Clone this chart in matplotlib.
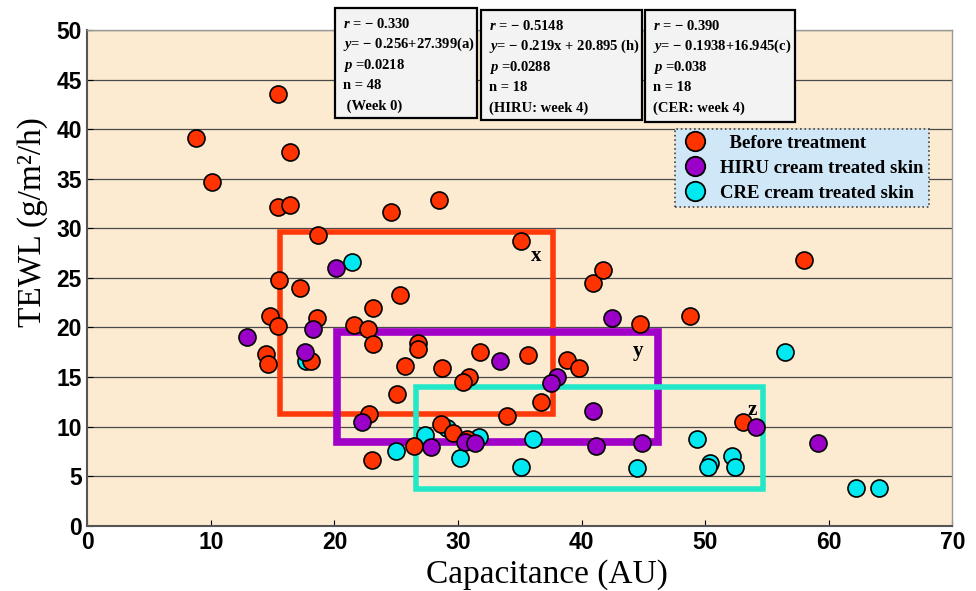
import matplotlib
matplotlib.use('Agg')
import matplotlib.pyplot as plt
from matplotlib.patches import Rectangle
from matplotlib.lines import Line2D

plt.rcParams['mathtext.fontset'] = 'custom'
plt.rcParams['mathtext.rm'] = 'Liberation Serif:bold'
plt.rcParams['mathtext.it'] = 'Liberation Serif:italic:bold'
plt.rcParams['mathtext.bf'] = 'Liberation Serif:bold'

# before treatment (week 0)
before_x = [8.76, 10.1, 15.4, 16.4, 15.4, 16.4, 18.7, 24.6, 28.5, 35.07,
            15.5, 17.2, 25.3, 23.1, 40.9, 41.7, 58.0, 14.77, 18.6, 15.4,
            21.6, 22.7, 23.1, 26.8, 26.8, 14.45, 14.6, 18.1, 25.7, 28.7,
            31.8, 35.7, 38.8, 39.8, 30.9, 30.4, 25.1, 36.7, 22.8, 34.0,
            28.6, 29.6, 30.7, 26.4, 23.0, 44.7, 48.8, 53.1]
before_y = [39.1, 34.7, 43.5, 37.7, 32.15, 32.3, 29.3, 31.6, 32.9, 28.7,
            24.8, 24.0, 23.3, 22.0, 24.5, 25.8, 26.8, 21.2, 20.9, 20.1,
            20.2, 19.8, 18.3, 18.4, 17.8, 17.3, 16.3, 16.65, 16.1, 15.9,
            17.5, 17.2, 16.7, 15.9, 15.0, 14.5, 13.3, 12.5, 11.3, 11.1,
            10.3, 9.4, 8.7, 8.0, 6.6, 20.3, 21.2, 10.5]

# HIRU cream, week 4
hiru_x = [20.1, 12.9, 18.3, 17.6, 33.4, 38.0, 37.5, 40.9, 22.2, 27.8,
          30.6, 31.4, 41.2, 42.5, 44.9, 54.1, 59.1]
hiru_y = [26.0, 19.0, 19.8, 17.5, 16.65, 15.0, 14.4, 11.6, 10.5, 7.9,
          8.4, 8.3, 8.0, 21.0, 8.3, 9.95, 8.3]

# CRE cream, week 4
cre_x = [21.4, 17.7, 29.1, 27.3, 31.7, 25.0, 30.2, 35.06, 36.1, 56.5,
         49.3, 44.5, 50.4, 50.2, 52.2, 52.4, 62.2, 64.1]
cre_y = [26.6, 16.65, 9.9, 9.1, 8.9, 7.5, 6.8, 5.95, 8.7, 17.5,
         8.7, 5.8, 6.3, 5.9, 7.0, 5.9, 3.8, 3.8]

# highlighted regions: (x0, x1, y0, y1, label)
regions = [(15.6, 37.7, 11.3, 29.6, 'x'),
           (20.2, 46.2, 8.4, 19.5, 'y'),
           (26.6, 54.7, 3.7, 14.0, 'z')]
region_colors = ['#FF3A0A', '#A100C9', '#22E8C8']
region_lw = [4.0, 5.5, 4.0]
region_label_pos = [(36.3, 27.2), (44.6, 17.6), (53.8, 11.7)]

stats = [
    ['$r$ = − 0.330', '$y$= − 0.256+27.399(a)', '$p$ =0.0218', 'n = 48', ' (Week 0)'],
    ['$r$ = − 0.5148', '$y$= − 0.219x + 20.895 (h)', '$p$ =0.0288', 'n = 18', '(HIRU: week 4)'],
    ['$r$ = − 0.390', '$y$= − 0.1938+16.945(c)', '$p$ =0.038', 'n = 18', '(CER: week 4)'],
]
# box extents in pixels (left, top, right, bottom)
stat_boxes = [(335, 8, 477, 118), (481, 10, 642, 120), (645, 10, 795, 122)]

W, H = 976, 591


def fx(px):
    return px / W


def fy(py):
    return 1 - py / H


fig = plt.figure(figsize=(9.76, 5.91), dpi=100)
ax = fig.add_axes([fx(87.3), fy(525.7), (952.3 - 87.3) / W, (525.7 - 30) / H])
ax.set_facecolor('#FCEBD1')
ax.set_xlim(0, 70)
ax.set_ylim(0, 50)
ax.set_xticks(range(0, 71, 10))
ax.set_yticks(range(0, 51, 5))
ax.yaxis.grid(True, color='#4a4a4a', lw=0.9)
ax.set_axisbelow(True)
ax.tick_params(axis='both', direction='in', length=4, labelsize=16.5, pad=4)
for lab in ax.get_xticklabels() + ax.get_yticklabels():
    lab.set_fontfamily('Liberation Sans')
    lab.set_fontweight('bold')
for s in ['left', 'bottom']:
    ax.spines[s].set_color('#555555')
    ax.spines[s].set_linewidth(1.5)
for s in ['top', 'right']:
    ax.spines[s].set_color('#999999')
    ax.spines[s].set_linewidth(1.0)

ax.set_xlabel('Capacitance (AU)', fontfamily='Liberation Serif', fontsize=24)
ax.set_ylabel('TEWL (g/m²/h)', fontfamily='Liberation Serif', fontsize=24)
ax.xaxis.set_label_coords(0.531, -0.068)
ax.yaxis.set_label_coords(-0.045, 0.613)

for (x0, x1, y0, y1, name), col, lw, (lx, ly) in zip(regions, region_colors, region_lw, region_label_pos):
    ax.add_patch(Rectangle((x0, y0), x1 - x0, y1 - y0, fill=False,
                           edgecolor=col, lw=lw, zorder=2))
    ax.text(lx, ly, name, fontfamily='Liberation Serif', fontweight='bold',
            fontsize=15, ha='center', va='center', zorder=4)

mk = dict(s=150, edgecolors='black', linewidths=1.2)
ax.scatter(cre_x, cre_y, c='#00E8F0', zorder=3, **mk)
ax.scatter(before_x, before_y, c='#FF3300', zorder=3.1, **mk)
ax.scatter(hiru_x, hiru_y, c='#9A00C8', zorder=3.2, **mk)

handles = [Line2D([], [], ls='none', marker='o', markersize=14, markerfacecolor=c,
                  markeredgecolor='black', markeredgewidth=1.3)
           for c in ['#FF3300', '#9A00C8', '#00E8F0']]
labels = ['  Before treatment', 'HIRU cream treated skin', 'CRE cream treated skin']
leg = ax.legend(handles, labels, loc='upper left',
                bbox_to_anchor=(fx(675), fy(129)), bbox_transform=fig.transFigure,
                prop={'family': 'Liberation Serif', 'weight': 'bold', 'size': 13.5},
                fancybox=False, frameon=True, borderpad=0.3, labelspacing=0.42,
                handletextpad=0.6, handlelength=1.5, borderaxespad=0)
fr = leg.get_frame()
fr.set_facecolor('#CFE7F6')
fr.set_alpha(1)
fr.set_edgecolor('#444444')
fr.set_linestyle(':')
fr.set_linewidth(1.2)
leg.set_zorder(6)

for lines, (l, t, r, b) in zip(stats, stat_boxes):
    fig.add_artist(Rectangle((fx(l), fy(b)), (r - l) / W, (b - t) / H,
                             transform=fig.transFigure, facecolor='#F3F3F3',
                             edgecolor='black', lw=1.6, zorder=7))
    for i, line in enumerate(lines):
        fig.text(fx(l + 8), fy(t + 16 + i * 20.5), line, fontfamily='Liberation Serif',
                 fontweight='bold', fontsize=10.5, va='center', ha='left', zorder=8)

fig.savefig('out.png', dpi=100)
